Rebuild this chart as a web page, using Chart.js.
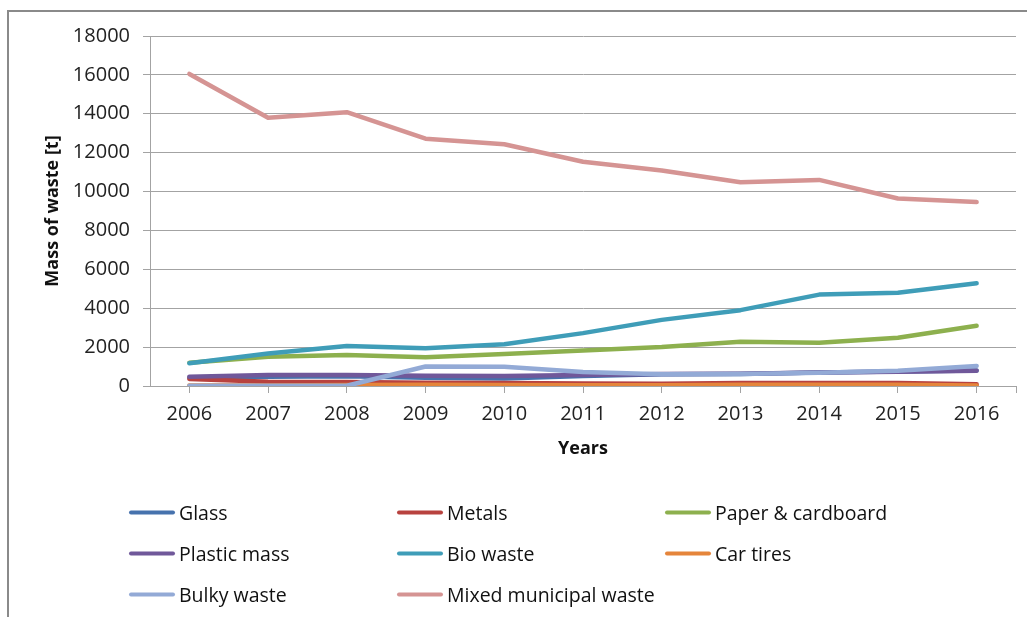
<!DOCTYPE html>
<html>
<head>
<meta charset="utf-8">
<script src="https://cdn.jsdelivr.net/npm/chart.js@4.4.1/dist/chart.umd.min.js"></script>
<style>
    html, body { margin: 0; padding: 0; background: #fff; overflow: hidden; }
    #wrap   { position: relative; width: 1027px; height: 617px; }
    #frame  { position: absolute; left: 7px; top: 10px; width: 1100px; height: 700px;
              border-left: 2px solid #8a8a8a; border-top: 2px solid #8a8a8a; }
    #chart  { position: absolute; left: 0; top: 0; }
    #legend { position: absolute; left: 0; top: 0; width: 1027px; height: 617px; pointer-events: none;
              font-family: 'Open Sans', sans-serif; font-size: 19.5px; color: #111; }
    .item   { position: absolute; display: flex; align-items: center; white-space: nowrap; transform: translateY(-50%); }
    .swatch { width: 46px; height: 4px; border-radius: 2px; margin-right: 4px; }
</style>
</head>
<body>
<div id="wrap">
    <div id="frame"></div>
    <canvas id="chart" width="1027" height="617"></canvas>
    <div id="legend"></div>
</div>
<script>
const years    = ['2006', '2007', '2008', '2009', '2010', '2011', '2012', '2013', '2014', '2015', '2016'];
const glass    = [430, 470, 500, 420, 390, 520, 600, 620, 690, 740, 800];
const metals   = [360, 220, 210, 170, 150, 130, 120, 150, 160, 150, 90];
const paper    = [1200, 1500, 1600, 1480, 1650, 1820, 2000, 2280, 2230, 2480, 3100];
const plastic  = [480, 560, 560, 530, 510, 560, 620, 630, 700, 730, 790];
const bio      = [1170, 1670, 2060, 1940, 2150, 2720, 3400, 3900, 4700, 4800, 5280];
const carTires = [20, 30, 50, 60, 50, 40, 40, 60, 60, 60, 30];
const bulky    = [10, 10, 10, 1000, 990, 720, 600, 620, 680, 780, 1030];
const mixed    = [16050, 13800, 14080, 12720, 12430, 11530, 11080, 10480, 10600, 9640, 9460];

const yTicks   = [0, 2000, 4000, 6000, 8000, 10000, 12000, 14000, 16000, 18000];

const series = [
    { label: 'Glass',                 data: glass,    color: '#4672ad' },
    { label: 'Metals',                data: metals,   color: '#b8423f' },
    { label: 'Paper & cardboard',     data: paper,    color: '#8db04e' },
    { label: 'Plastic mass',          data: plastic,  color: '#70589a' },
    { label: 'Bio waste',             data: bio,      color: '#3f9db8' },
    { label: 'Car tires',             data: carTires, color: '#e5853b' },
    { label: 'Bulky waste',           data: bulky,    color: '#93aad6' },
    { label: 'Mixed municipal waste', data: mixed,    color: '#d59493' }
];

const FONT = "'Open Sans', sans-serif";
const GRID = '#a3a3a3';

// small tick at the right end of the category axis, like the left one
const endTick = {
    id: 'endTick',
    afterDraw(chart) {
        const { ctx, chartArea } = chart;
        ctx.save();
        ctx.strokeStyle = GRID;
        ctx.lineWidth = 1;
        ctx.beginPath();
        ctx.moveTo(chartArea.right + 0.5, chartArea.bottom);
        ctx.lineTo(chartArea.right + 0.5, chartArea.bottom + 7);
        ctx.stroke();
        ctx.restore();
    }
};

const chart = new Chart(document.getElementById('chart'), {
    type: 'line',
    data: {
        labels: years,
        datasets: series.map((s, i) => ({
            label:            s.label,
            data:             s.data,
            borderColor:      s.color,
            backgroundColor:  s.color,
            borderWidth:      4.5,
            borderCapStyle:   'round',
            borderJoinStyle:  'round',
            pointRadius:      0,
            tension:          0,
            fill:             false,
            order:            series.length - i
        }))
    },
    options: {
        responsive: false,
        animation:  false,
        layout: { padding: { left: 28, top: 36, right: 11, bottom: 151 } },
        plugins: {
            legend:  { display: false },
            tooltip: { enabled: false }
        },
        scales: {
            x: {
                offset: true,
                grid:   { offset: false, drawOnChartArea: false, drawTicks: true, tickLength: 7, color: GRID },
                border: { color: GRID, width: 1 },
                ticks:  { color: '#222', font: { family: FONT, size: 20 }, padding: 9, maxRotation: 0 },
                title:  { display: true, text: 'Years', color: '#111',
                          font: { family: FONT, size: 18, weight: 'bold' }, padding: { top: 0, bottom: 6 } },
                afterFit(scale) { scale.height = 80; }
            },
            y: {
                min: 0,
                max: 18000,
                afterBuildTicks(scale) { scale.ticks = yTicks.map(v => ({ value: v })); },
                grid:   { color: GRID, lineWidth: 1, tickLength: 7 },
                border: { color: GRID, width: 1 },
                ticks:  { color: '#222', font: { family: FONT, size: 20 }, padding: 13,
                          callback: v => String(v) },
                title:  { display: true, text: 'Mass of waste [t]', color: '#111',
                          font: { family: FONT, size: 18, weight: 'bold' }, padding: { top: 14, bottom: 0 } },
                afterFit(scale) { scale.width = 122; }
            }
        }
    },
    plugins: [endTick]
});

// legend in three columns, rows read left to right
const legendCols = [129, 397, 665];
const legendRows = [512, 553, 594];
const legendEl = document.getElementById('legend');
series.forEach((s, i) => {
    const item = document.createElement('div');
    item.className = 'item';
    item.style.left = legendCols[i % 3] + 'px';
    item.style.top  = legendRows[Math.floor(i / 3)] + 'px';
    const sw = document.createElement('span');
    sw.className = 'swatch';
    sw.style.background = s.color;
    const txt = document.createElement('span');
    txt.textContent = s.label;
    item.appendChild(sw);
    item.appendChild(txt);
    legendEl.appendChild(item);
});
</script>
</body>
</html>
